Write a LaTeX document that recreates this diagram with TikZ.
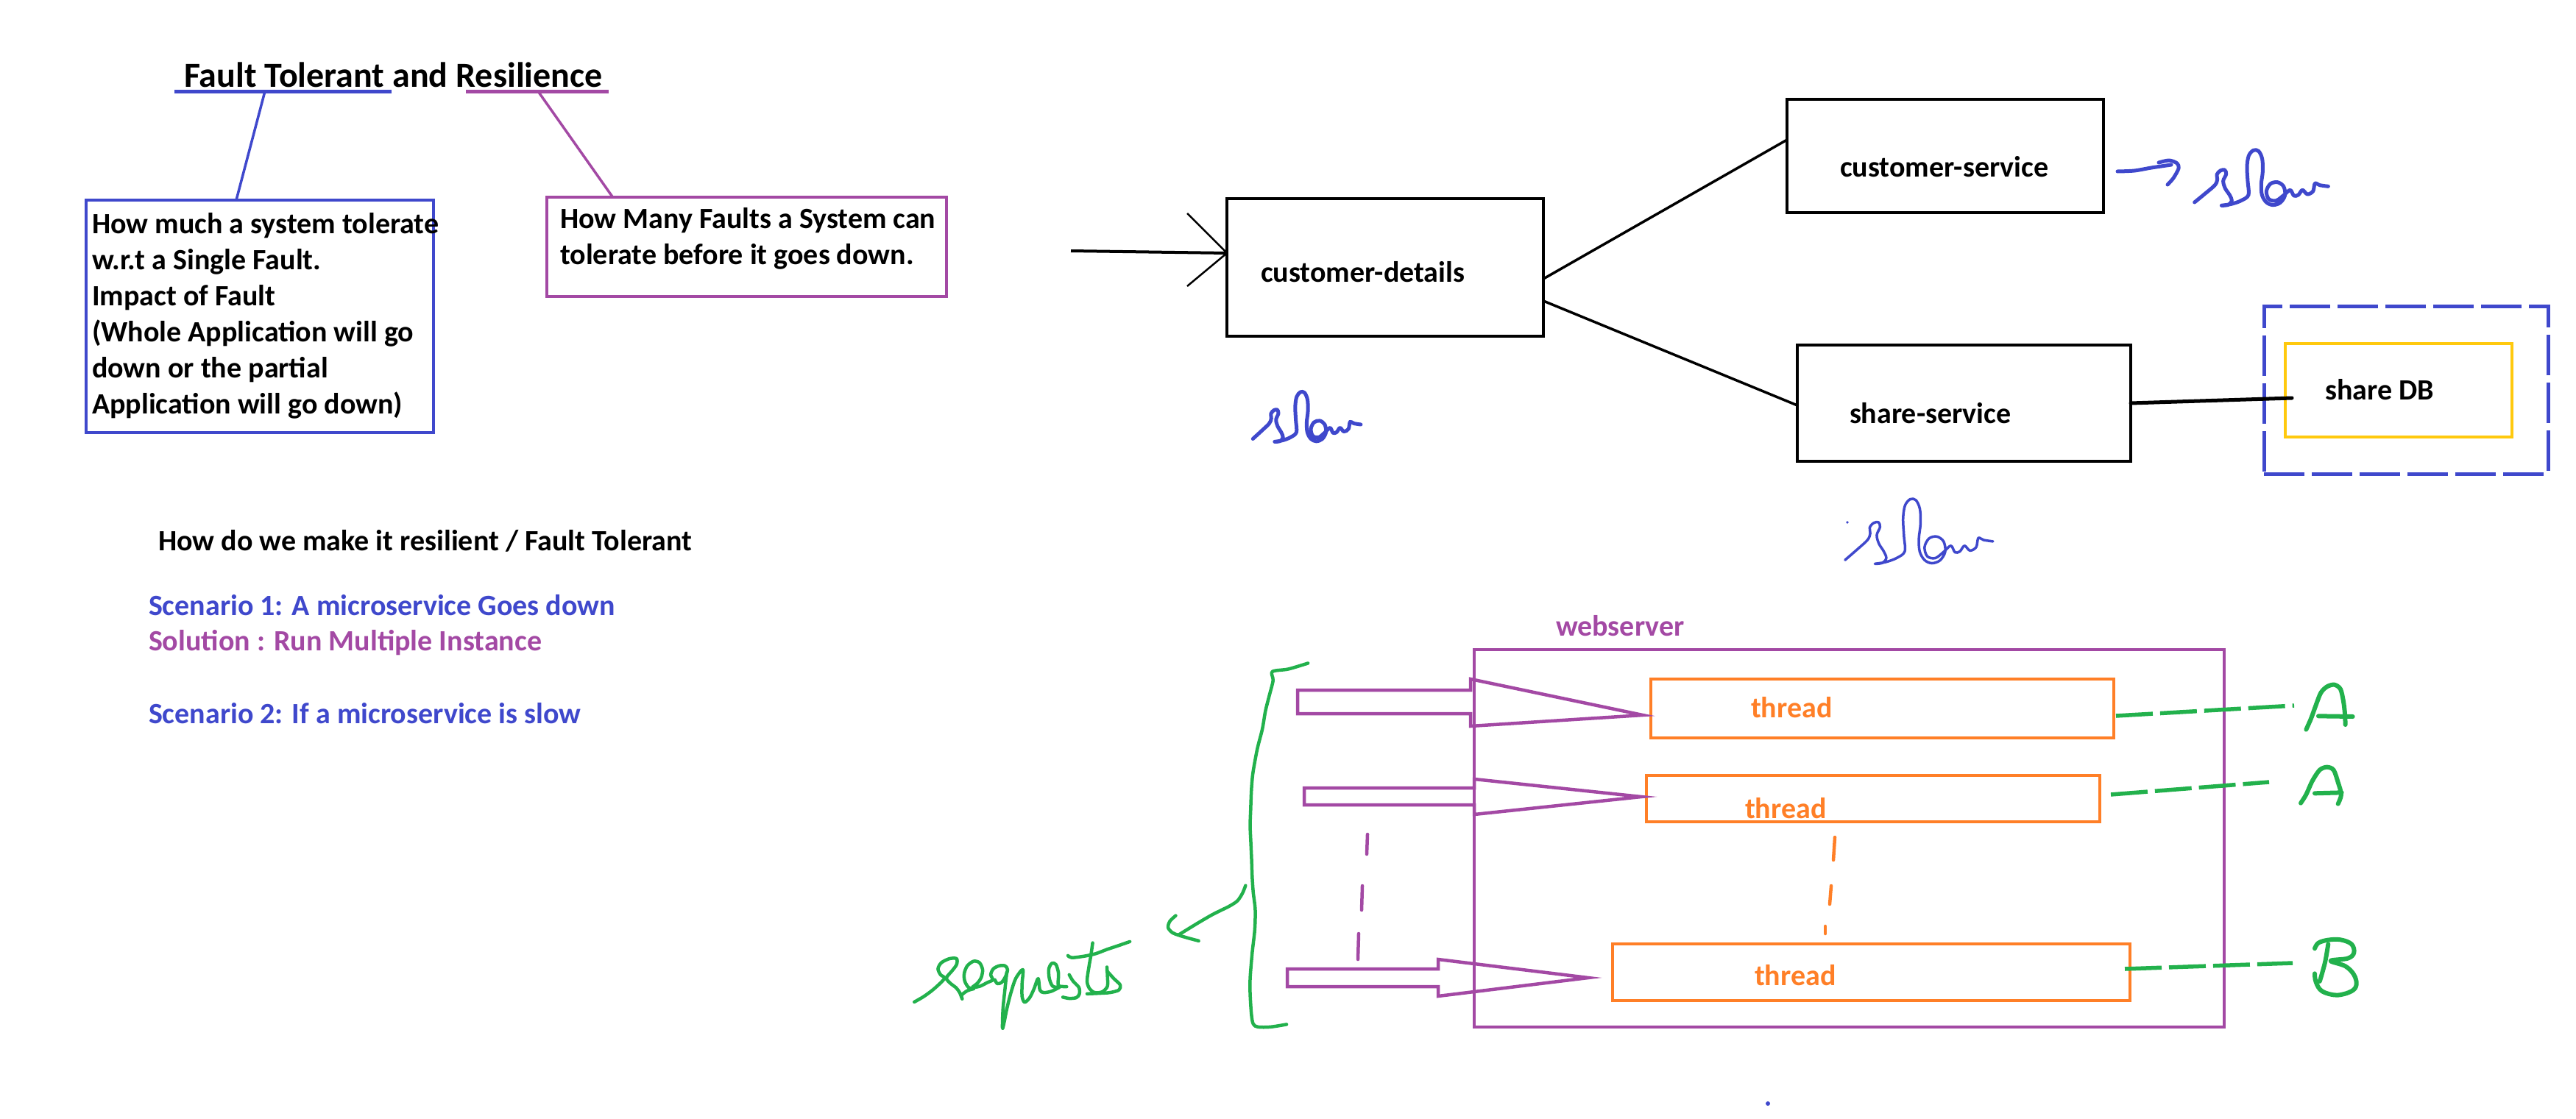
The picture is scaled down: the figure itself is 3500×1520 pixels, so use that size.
\documentclass[tikz,border=0pt]{standalone}
\usepackage{fontspec}
\setmainfont{Carlito}
\usetikzlibrary{calc}
\definecolor{pblue}{RGB}{63,72,204}
\definecolor{ppurple}{RGB}{163,73,164}
\definecolor{porange}{RGB}{255,127,39}
\definecolor{pgreen}{RGB}{34,177,76}
\definecolor{pyellow}{RGB}{255,201,14}
\tikzset{
  txt/.style={anchor=base west, inner sep=0pt, outer sep=0pt, font=\fontsize{40}{49}\selectfont\bfseries},
  boxnode/.style={draw, inner sep=0pt, outer sep=0pt},
  hand/.style={line cap=round, line join=round},
  blockarrow/.style={draw=ppurple, line width=4.5pt, line join=miter},
  gdash/.style={draw=pgreen, line width=5.5pt, dash pattern=on 50pt off 10pt},
  slowpic/.pic={
    \draw[hand] plot[smooth, tension=0.55] coordinates {(395,375) (440,338) (478,305) (488,282) (486,262) (500,246) (518,243) (524,260) (512,288) (520,318) (538,345) (547,368) (533,385) (505,388) (545,382) (585,368) (615,345) (612,290) (609,230) (616,185) (635,163) (656,166) (671,198) (673,250) (667,300) (670,345) (688,375) (715,386) (745,376) (764,346) (758,310) (733,293) (704,300) (688,330) (698,362) (728,368) (760,345) (785,325) (800,348) (818,345) (835,325) (855,342) (878,330) (886,298) (905,305) (940,310)};
  }
}
\begin{document}
\begin{tikzpicture}[x=1pt,y=-1pt]
\useasboundingbox (0,0) rectangle (3500,1520);

% ---------- title and definitions ----------
\node[txt, font=\fontsize{48}{58}\selectfont\bfseries] (title) at (250,118) {Fault Tolerant and Resilience};
\coordinate (ulb1) at (237,124); \coordinate (ulb2) at (532,124);
\coordinate (ulp1) at (633,124); \coordinate (ulp2) at (827,124);
\coordinate (ulbm) at (360,124); \coordinate (ulpm) at (731,124);
\draw[pblue, line width=5pt] (ulb1) -- (ulb2);
\draw[ppurple, line width=5pt] (ulp1) -- (ulp2);

\node[boxnode, draw=pblue, line width=4.5pt, minimum width=472pt, minimum height=316pt] (ftbox) at (353,430) {};
\node[boxnode, draw=ppurple, line width=4.5pt, minimum width=543pt, minimum height=135pt] (rsbox) at (1014.5,335.5) {};
\draw[pblue, line width=3.5pt] (ulbm) -- ([xshift=-32pt]ftbox.north);
\draw[ppurple, line width=3.5pt] (ulpm) -- ([xshift=-182pt]rsbox.north);

\foreach \t [count=\i from 0] in {{How much a system tolerate},{w.r.t a Single Fault.},{Impact of Fault},{(Whole Application will go},{down or the partial},{Application will go down)}}
  \node[txt] (ft\i) at (125,{317+49*\i}) {\t};
\node[txt] (rs0) at (761,310) {How Many Faults a System can};
\node[txt] (rs1) at (761,359) {tolerate before it goes down.};

% ---------- scenarios ----------
\node[txt] (how) at (215,748) {How do we make it resilient / Fault Tolerant};
\node[txt, text=pblue] (sc1) at (202,836) {Scenario 1: A microservice Goes down};
\node[txt, text=ppurple] (sol) at (202,884) {Solution : Run Multiple Instance};
\node[txt, text=pblue] (sc2) at (202,983) {Scenario 2: If a microservice is slow};

% ---------- services ----------
\node[boxnode, line width=4.5pt, minimum width=430pt, minimum height=187pt] (cd) at (1882,363.5) {};
\node[boxnode, line width=4.5pt, minimum width=430pt, minimum height=154pt] (cs) at (2643,212) {};
\node[boxnode, line width=4.5pt, minimum width=453pt, minimum height=158pt] (ss) at (2668.5,548) {};
\node[boxnode, draw=pblue, line width=5pt, dash pattern=on 55pt off 10pt, minimum width=386pt, minimum height=228pt] (dbzone) at (3269,530) {};
\node[boxnode, draw=pyellow, line width=4.5pt, minimum width=308pt, minimum height=127pt] (db) at (3259,530.5) {};

\node[txt] (cdt) at (1713,383) {customer-details};
\node[txt] (cst) at (2500,240) {customer-service};
\node[txt] (sst) at (2513,575) {share-service};
\node[txt] (dbt) at (3159,543) {share DB};

\coordinate (inS) at (1455,341);
\coordinate (tip) at ([yshift=19.5pt]cd.west);
\coordinate (hu) at (1613,290);
\coordinate (hd) at (1613,389);
\draw[line width=4pt] (inS) -- (tip);
\draw[line width=2.5pt] (hu) -- (tip) -- (hd);

\draw[line width=3.5pt] ([yshift=-15.5pt]cd.east) -- ([yshift=22pt]cs.west);
\draw[line width=3.5pt] ([yshift=-45.5pt]cd.east) -- ([yshift=-3pt]ss.west);
\draw[line width=5pt, line cap=round] (ss.east) -- ([xshift=9pt, yshift=-10.5pt]db.west);

% slow notes
\draw[pblue, line width=5pt, hand] plot[smooth] coordinates {(2877,233) (2900,232) (2923,228) (2950,224)};
\draw[pblue, line width=5pt, hand] plot[smooth] coordinates {(2933,221) (2947,218) (2958,222) (2960,229) (2953,242) (2945,251)};
\pic[pblue, line width=5pt, scale=0.3333] at (2850,150) {slowpic};
\pic[pblue, line width=5pt, xscale=0.269, yscale=0.30] at (1596,484) {slowpic};
\pic[pblue, line width=3.5pt, xscale=0.369, yscale=0.39] at (2361,615) {slowpic};
\fill[pblue] (2510,710) circle (1.8pt);

% ---------- webserver ----------
\node[boxnode, draw=ppurple, line width=4.5pt, minimum width=1019pt, minimum height=513pt] (web) at (2512.5,1139.5) {};
\node[txt, text=ppurple] (webt) at (2114,864) {webserver};
\node[boxnode, draw=porange, line width=4.5pt, minimum width=629pt, minimum height=80pt] (t1) at (2557.5,963) {};
\node[boxnode, draw=porange, line width=4.5pt, minimum width=616pt, minimum height=63pt] (t2) at (2545,1085.5) {};
\node[boxnode, draw=porange, line width=4.5pt, minimum width=703pt, minimum height=77pt] (t3) at (2542.5,1321.5) {};
\node[txt, text=porange] (t1t) at (2379,975) {thread};
\node[txt, text=porange] (t2t) at (2371,1112) {thread};
\node[txt, text=porange] (t3t) at (2384,1339) {thread};

% block arrows (requests)
\draw[blockarrow] (1763,938) -- (1998,938) -- (1998,923) -- ([xshift=-11pt,yshift=-9pt]t1.west) -- (1998,987) -- (1998,970) -- (1763,970) -- cycle;
\draw[blockarrow] (1772,1071) -- (2003,1071) -- (2003,1059) -- ([xshift=-7pt,yshift=2.5pt]t2.west) -- (2003,1107) -- (2003,1094) -- (1772,1094) -- cycle;
\draw[blockarrow] (1749,1317) -- (1954,1317) -- (1954,1304) -- ([xshift=-33pt,yshift=-7.5pt]t3.west) -- (1954,1354) -- (1954,1341) -- (1749,1341) -- cycle;

% vertical dashes
\draw[ppurple, line width=4.5pt, hand] (1858,1134) -- (1857,1161);
\draw[ppurple, line width=4.5pt, hand] (1851,1204) -- (1850,1237);
\draw[ppurple, line width=4.5pt, hand] (1846,1269) -- (1845,1304);
\draw[porange, line width=4.5pt, hand] (2493,1138) -- (2491,1169);
\draw[porange, line width=4.5pt, hand] (2488,1204) -- (2486,1229);
\draw[porange, line width=4.5pt, hand] (2480,1259) -- (2480,1269);

% green dashed to A, A, B
\coordinate (eA1) at (3117,959);
\coordinate (eA2) at (3083,1063);
\coordinate (eB) at (3115,1309);
\draw[gdash] ([xshift=3pt,yshift=-10pt]t1.east) -- (eA1);
\draw[gdash] ([xshift=15pt,yshift=5.5pt]t2.east) -- (eA2);
\draw[gdash] ([xshift=-7pt,yshift=4.5pt]t3.east) -- (eB);

\begin{scope}[shift={(2850,880)}, scale=0.3333, pgreen, line width=6pt, hand]
  \draw plot[smooth] coordinates {(850,335) (870,290) (890,235) (910,185) (935,160) (965,152) (990,170) (1002,220) (1008,270) (1010,315)};
  \draw (900,280) -- (1040,282);
  \draw plot[smooth] coordinates {(828,635) (850,600) (875,545) (905,500) (935,488) (962,500) (980,550) (993,600) (980,638)};
  \draw (885,595) -- (995,592);
  \draw plot[smooth] coordinates {(940,1210) (928,1280) (912,1340) (905,1362)};
  \draw plot[smooth, tension=0.6] coordinates {(885,1228) (900,1205) (940,1193) (990,1192) (1035,1210) (1045,1245) (1020,1268) (950,1278) (1010,1300) (1045,1335) (1055,1375) (1035,1402) (975,1418) (915,1402) (890,1365) (885,1330)};
\end{scope}

% bracket and "requests"
\begin{scope}[shift={(1200,880)}, scale=0.3462, pgreen, line width=4.5pt, hand]
  \draw plot[smooth, tension=0.5] coordinates {(1667,62) (1590,85) (1527,95) (1530,130) (1515,190) (1500,250) (1488,320) (1470,390) (1460,440) (1450,500) (1445,560) (1442,640) (1440,700) (1443,770) (1446,840) (1448,900) (1452,960) (1460,1030) (1458,1110) (1448,1200) (1440,1300) (1440,1360) (1445,1440) (1452,1478) (1470,1490) (1520,1490) (1583,1480)};
  \draw plot[smooth, tension=0.5] coordinates {(1422,935) (1410,965) (1390,995) (1360,1015) (1330,1030) (1290,1050) (1230,1085) (1160,1128)};
  \draw plot[smooth, tension=0.5] coordinates {(1148,1053) (1125,1075) (1118,1100) (1135,1120) (1160,1130) (1200,1142) (1238,1152)};
  \draw plot[smooth, tension=0.5] coordinates {(122,1392) (160,1370) (200,1340) (240,1300) (225,1285) (215,1262) (228,1238) (260,1222) (288,1222) (288,1245) (270,1270) (248,1298) (265,1320) (285,1335) (300,1355) (310,1380) (308,1365) (330,1348) (355,1340)};
  \draw plot[smooth, tension=0.5] coordinates {(355,1340) (335,1335) (320,1310) (318,1280) (330,1250) (355,1232) (378,1238) (390,1265) (385,1295) (370,1318) (350,1335) (380,1330) (410,1315) (430,1305) (422,1285) (432,1262) (455,1250) (478,1250) (488,1265) (480,1292) (465,1315) (448,1320) (438,1305)};
  \draw plot[smooth, tension=0.5] coordinates {(485,1275) (478,1340) (470,1420) (468,1495) (475,1470) (485,1420) (500,1360) (520,1300) (548,1265) (545,1320) (545,1370) (555,1393) (575,1375) (592,1340) (608,1300) (615,1345) (630,1355) (660,1350) (690,1335)};
  \draw plot[smooth, tension=0.5] coordinates {(690,1335) (665,1330) (652,1300) (650,1262) (662,1240) (678,1245) (688,1280) (686,1320) (692,1330) (720,1332)};
  \draw plot[smooth, tension=0.5] coordinates {(730,1285) (745,1310) (768,1335) (770,1360) (758,1375) (730,1378) (705,1373)};
  \draw plot[smooth, tension=0.5] coordinates {(822,1160) (815,1210) (808,1250) (800,1310) (810,1340) (830,1355) (860,1352) (880,1330) (880,1290) (878,1255)};
  \draw plot[smooth, tension=0.5] coordinates {(878,1270) (905,1300) (930,1325) (925,1345) (890,1355) (845,1358) (800,1360)};
  \draw plot[smooth, tension=0.5] coordinates {(725,1210) (740,1218) (790,1212) (835,1202) (880,1185) (925,1170) (968,1155)};
\end{scope}

\fill[pblue] (2402,1500) circle (3pt);
\end{tikzpicture}
\end{document}
